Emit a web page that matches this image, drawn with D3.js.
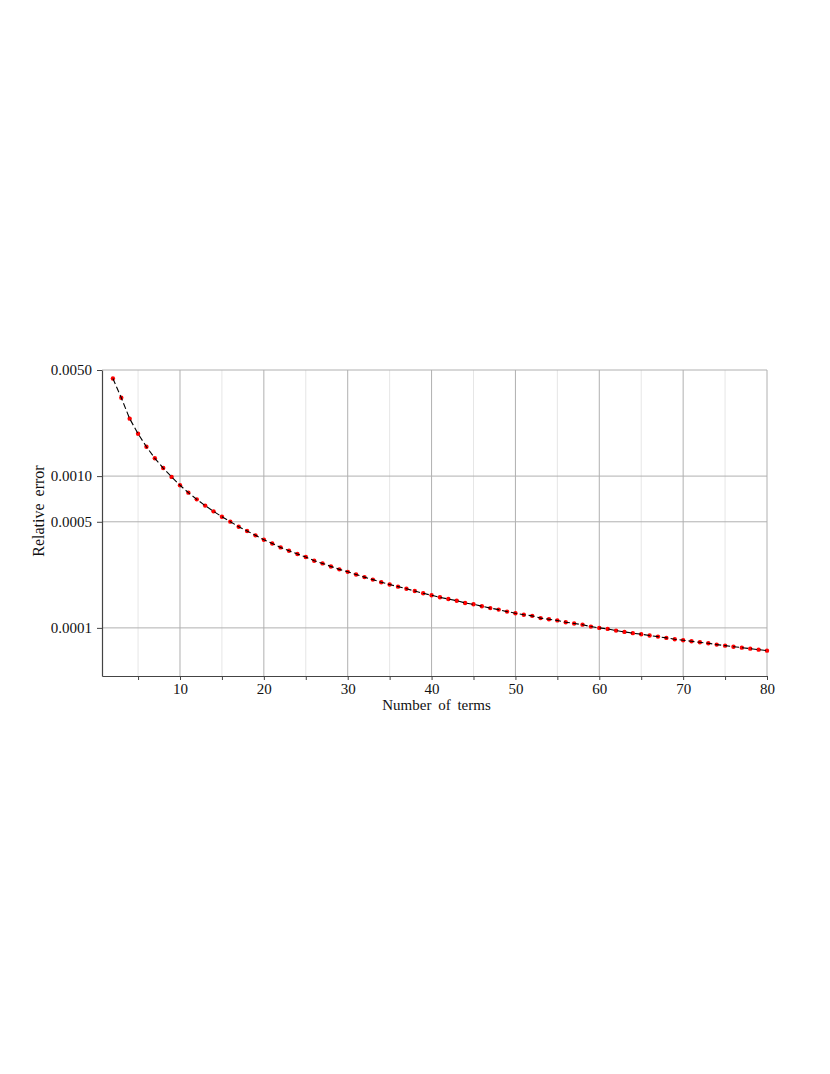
<!DOCTYPE html>
<html>
<head>
<meta charset="utf-8">
<script src="https://cdn.jsdelivr.net/npm/d3@7"></script>
<style>
  body { margin: 0; background: #fff; }
  text { font-family: "Liberation Serif", "DejaVu Serif", serif; fill: #111; }
</style>
</head>
<body>
<div class="chart"></div>
<script>
// Relative error vs number of terms (log y axis)

// number of terms, 2..80
var terms = d3.range(2, 81);

// relative error, one per term
var relError = [
  0.00440, 0.00328, 0.00239, 0.00190, 0.00156, 0.00131, 0.00113, 0.000988, 0.000870,
  0.000778, 0.000703, 0.000639, 0.000586, 0.000540, 0.000501, 0.000464, 0.000435, 0.000407, 0.000381,
  0.000360, 0.000339, 0.000322, 0.000307, 0.000293, 0.000277, 0.000266, 0.000254, 0.000243, 0.000234,
  0.000225, 0.000216, 0.000208, 0.000200, 0.000193, 0.000187, 0.000181, 0.000175, 0.000169, 0.000164,
  0.000159, 0.000155, 0.000151, 0.000146, 0.000143, 0.000139, 0.000135, 0.000132, 0.000128, 0.000125,
  0.000122, 0.000120, 0.000116, 0.000114, 0.000112, 0.000109, 0.000107, 0.000105, 0.000102, 0.000100,
  0.0000985, 0.0000960, 0.0000941, 0.0000923, 0.0000909, 0.0000890, 0.0000876, 0.0000859, 0.0000842, 0.0000829,
  0.0000817, 0.0000804, 0.0000792, 0.0000776, 0.0000764, 0.0000752, 0.0000741, 0.0000730, 0.0000719, 0.0000708
];

var xMajorTicks = [10, 20, 30, 40, 50, 60, 70, 80];
var xMinorTicks = [5, 15, 25, 35, 45, 55, 65, 75];
var yTicks = [0.005, 0.001, 0.0005, 0.0001];
var yTickLabels = ["0.0050", "0.0010", "0.0005", "0.0001"];

var data = terms.map(function(n, i) { return {n: n, err: relError[i]}; });

var svgWidth = 830;
var svgHeight = 1074;

var margin = { top: 370, right: 63, bottom: 398, left: 102 };
var chartWidth = svgWidth - margin.left - margin.right;
var chartHeight = svgHeight - margin.top - margin.bottom;

var svg = d3.select(".chart")
            .append("svg")
            .attr("width", svgWidth)
            .attr("height", svgHeight);

var chartGroup = svg.append("g")
                    .attr("transform", `translate(${margin.left}, ${margin.top})`);

var xScale = d3.scaleLinear()
               .domain([0.7, 80])
               .range([0, chartWidth]);

var yScale = d3.scaleLog()
               .domain([4.82e-5, 0.005])
               .range([chartHeight, 0]);

// minor vertical grid
chartGroup.append("g")
          .selectAll("line")
          .data(xMinorTicks)
          .enter()
          .append("line")
          .attr("x1", d => xScale(d))
          .attr("x2", d => xScale(d))
          .attr("y1", 0)
          .attr("y2", chartHeight)
          .attr("stroke", "#e6e6e6")
          .attr("stroke-width", 1);

// major vertical grid
chartGroup.append("g")
          .selectAll("line")
          .data(xMajorTicks)
          .enter()
          .append("line")
          .attr("x1", d => xScale(d))
          .attr("x2", d => xScale(d))
          .attr("y1", 0)
          .attr("y2", chartHeight)
          .attr("stroke", "#b0b0b0")
          .attr("stroke-width", 1);

// horizontal grid
chartGroup.append("g")
          .selectAll("line")
          .data(yTicks)
          .enter()
          .append("line")
          .attr("x1", 0)
          .attr("x2", chartWidth)
          .attr("y1", d => yScale(d))
          .attr("y2", d => yScale(d))
          .attr("stroke", "#b0b0b0")
          .attr("stroke-width", 1);

// x axis
var bottomAxis = d3.axisBottom(xScale)
                   .tickValues(xMajorTicks.concat(xMinorTicks))
                   .tickSize(4)
                   .tickSizeOuter(0)
                   .tickFormat(d => xMajorTicks.indexOf(d) >= 0 ? d : "");

var xAxisG = chartGroup.append("g")
                       .attr("transform", `translate(0, ${chartHeight})`)
                       .call(bottomAxis);
xAxisG.select(".domain").attr("stroke", "#444").attr("stroke-width", 1.2);
xAxisG.selectAll(".tick line").attr("stroke", "#444");
xAxisG.selectAll(".tick text")
      .attr("dy", "0")
      .attr("y", 18)
      .style("font-size", "15px")
      .style("font-family", "Liberation Serif, serif");

// y axis
var leftAxis = d3.axisLeft(yScale)
                 .tickValues(yTicks)
                 .tickSize(5)
                 .tickSizeOuter(0)
                 .tickFormat((d, i) => yTickLabels[i]);

var yAxisG = chartGroup.append("g").call(leftAxis);
yAxisG.select(".domain").attr("stroke", "#444").attr("stroke-width", 1.2);
yAxisG.selectAll(".tick line").attr("stroke", "#444");
yAxisG.selectAll(".tick text")
      .attr("x", -10)
      .style("font-size", "15px")
      .style("font-family", "Liberation Serif, serif");

// points
chartGroup.append("g")
          .selectAll("circle")
          .data(data)
          .enter()
          .append("circle")
          .attr("cx", d => xScale(d.n))
          .attr("cy", d => yScale(d.err))
          .attr("r", 2.2)
          .attr("fill", "#ff0000");

// dashed line on top
var line = d3.line()
             .x(d => xScale(d.n))
             .y(d => yScale(d.err));

chartGroup.append("path")
          .datum(data)
          .attr("d", line)
          .attr("fill", "none")
          .attr("stroke", "#000")
          .attr("stroke-width", 1.1)
          .attr("stroke-dasharray", "6,3");

// axis labels
chartGroup.append("text")
          .attr("transform", `translate(${chartWidth / 2 + 2}, ${chartHeight + 34})`)
          .style("text-anchor", "middle")
          .style("font-size", "15px")
          .style("word-spacing", "3px")
          .text("Number of terms");

chartGroup.append("text")
          .attr("transform", `translate(-58, ${chartHeight / 2 - 12}) rotate(-90)`)
          .style("text-anchor", "middle")
          .style("font-size", "16px")
          .style("word-spacing", "3px")
          .text("Relative error");
</script>
</body>
</html>
